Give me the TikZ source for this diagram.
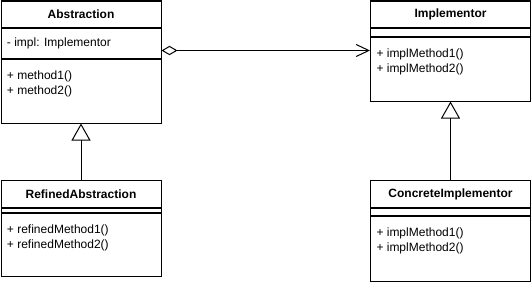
\documentclass[tikz,border=0pt]{standalone}
\usepackage{fontspec}
\setmainfont{Liberation Sans}
\usetikzlibrary{arrows.meta, positioning}
\tikzset{
    classhead/.style={rectangle, draw, anchor=north west, minimum width=120pt, minimum height=19.5pt, inner sep=0pt, font=\fontsize{9}{11.25}\selectfont\bfseries},
    classpart/.style={rectangle, draw, minimum width=120pt, inner sep=0pt},
    member/.style={align=left, inner sep=0pt, font=\fontsize{9}{11.25}\selectfont},
    inherit/.style={-{Triangle[open, length=12.75pt, width=14.25pt]}},
    aggr/.style={{Diamond[open, length=12pt, width=7pt]}-{Straight Barb[length=9.5pt, width=9pt]}},
}

\begin{document}
\begin{tikzpicture}[x=0.75pt, y=-0.75pt, line width=0.75pt]
    \useasboundingbox (0,0) rectangle (531,282);

    % abstraction side
    \node[classhead] (abs) at (0.5,0.5) {Abstraction};
    \node[classpart, below=0pt of abs, minimum height=22.5pt] (absattr) {};
    \node[classpart, below=0pt of absattr, minimum height=48pt] (absops) {};
    \node[member, anchor=west, xshift=4.5pt] (absattrtext) at (absattr.west) {- impl: Implementor};
    \node[member, anchor=north west, xshift=4.5pt, yshift=-8.5pt] (absopstext) at (absops.north west) {+ method1()\\+ method2()};

    \node[classhead, minimum height=20.25pt] (refabs) at (0.5,180) {RefinedAbstraction};
    \node[classpart, below=0pt of refabs, minimum height=3pt] (refattr) {};
    \node[classpart, below=0pt of refattr, minimum height=47.25pt] (refops) {};
    \node[member, anchor=north west, xshift=4.5pt, yshift=-8.5pt] (refopstext) at (refops.north west) {+ refinedMethod1()\\+ refinedMethod2()};

    % implementor side
    \node[classhead] (impl) at (370,0.5) {Implementor};
    \node[classpart, below=0pt of impl, minimum height=6pt] (implattr) {};
    \node[classpart, below=0pt of implattr, minimum height=48pt] (implops) {};
    \node[member, anchor=north west, xshift=4.5pt, yshift=-8.5pt] (implopstext) at (implops.north west) {+ implMethod1()\\+ implMethod2()};

    \node[classhead, minimum height=20.25pt] (concimpl) at (370,180) {ConcreteImplementor};
    \node[classpart, below=0pt of concimpl, minimum height=5.25pt] (concattr) {};
    \node[classpart, below=0pt of concattr, minimum height=48.75pt] (concops) {};
    \node[member, anchor=north west, xshift=4.5pt, yshift=-8.5pt] (concopstext) at (concops.north west) {+ implMethod1()\\+ implMethod2()};

    % relations
    \coordinate (aggstart) at ([yshift=6pt]absattr.south east);
    \draw[aggr] (aggstart) -- (aggstart -| implops.west);
    \draw[inherit] (refabs) -- (absops);
    \draw[inherit] (concimpl) -- (implops);
\end{tikzpicture}
\end{document}
